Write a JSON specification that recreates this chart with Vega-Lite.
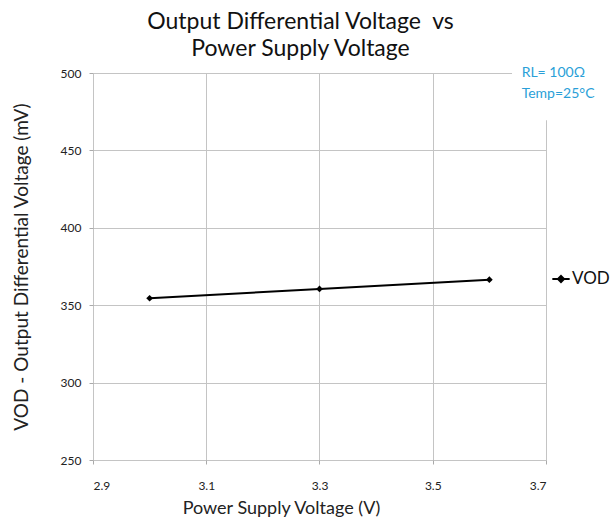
{
  "$schema": "https://vega.github.io/schema/vega-lite/v6.json",
  "width": 453,
  "height": 387,
  "autosize": {"type": "none"},
  "padding": {"left": 93, "top": 73, "right": 65, "bottom": 60},
  "background": "white",
  "config": {"view": {"stroke": null}, "font": "Lato"},
  "title": {
    "text": ["Output Differential Voltage \u00a0vs", "Power Supply Voltage"],
    "anchor": "middle",
    "dx": -19,
    "offset": 4,
    "fontSize": 23,
    "fontWeight": "normal",
    "font": "Lato",
    "color": "#111111",
    "lineHeight": 27
  },
  "datasets": {
    "main": [
      {"voltage": 3.0, "vod": 354.5, "series": "VOD"},
      {"voltage": 3.3, "vod": 360.5, "series": "VOD"},
      {"voltage": 3.6, "vod": 366.5, "series": "VOD"}
    ],
    "box": [{"x1": 3.64, "x2": 3.73, "y1": 469.5, "y2": 505}],
    "notes": [
      {"x": 3.657, "y": 500, "label": "RL= 100Ω"},
      {"x": 3.657, "y": 486.2, "label": "Temp=25°C"}
    ]
  },
  "layer": [
    {
      "data": {"name": "main"},
      "mark": {"type": "line", "color": "black", "strokeWidth": 2},
      "encoding": {
        "x": {
          "field": "voltage", "type": "quantitative",
          "scale": {"domain": [2.9, 3.7], "nice": false, "zero": false},
          "axis": {
            "values": [2.9, 3.1, 3.3, 3.5, 3.7], "format": ".1f",
            "title": "Power Supply Voltage (V)",
            "titleFontSize": 18, "titleFontWeight": "normal", "titleColor": "#222",
            "titleX": 188, "titleAnchor": "middle", "titlePadding": 8,
            "labelFontSize": 12, "labelColor": "#222", "labelPadding": 16,
            "domain": false, "tickSize": 4, "tickColor": "#aaa",
            "gridColor": "#c4c4c4", "gridWidth": 1
          }
        },
        "y": {
          "field": "vod", "type": "quantitative",
          "scale": {"domain": [250, 500], "nice": false, "zero": false},
          "axis": {
            "values": [250, 300, 350, 400, 450, 500],
            "title": "VOD - Output Differential Voltage (mV)",
            "titleFontSize": 19, "titleFontWeight": "normal", "titleColor": "#222",
            "titlePadding": 29,
            "labelFontSize": 12, "labelColor": "#222", "labelPadding": 8,
            "domain": false, "tickSize": 4, "tickColor": "#aaa",
            "gridColor": "#c4c4c4", "gridWidth": 1
          }
        },
        "color": {
          "field": "series", "type": "nominal",
          "scale": {"range": ["black"]},
          "legend": {
            "orient": "none", "legendX": 458, "legendY": 196,
            "title": null,
            "labelFontSize": 17, "labelColor": "#111",
            "symbolType": "M-1,0H1M0,-0.35L0.35,0L0,0.35L-0.35,0Z",
            "symbolSize": 300, "symbolStrokeWidth": 2,
            "symbolFillColor": "black", "symbolStrokeColor": "black",
            "labelOffset": 1
          }
        }
      }
    },
    {
      "data": {"name": "main"},
      "mark": {"type": "point", "shape": "diamond", "filled": true, "color": "black", "size": 45, "opacity": 1},
      "encoding": {
        "x": {"field": "voltage", "type": "quantitative"},
        "y": {"field": "vod", "type": "quantitative"}
      }
    },
    {
      "data": {"name": "box"},
      "mark": {"type": "rect", "color": "white", "clip": false},
      "encoding": {
        "x": {"field": "x1", "type": "quantitative"},
        "x2": {"field": "x2"},
        "y": {"field": "y1", "type": "quantitative"},
        "y2": {"field": "y2"}
      }
    },
    {
      "data": {"name": "notes"},
      "mark": {"type": "text", "align": "left", "baseline": "middle", "fontSize": 14, "color": "#2a9fd8", "clip": false},
      "encoding": {
        "x": {"field": "x", "type": "quantitative"},
        "y": {"field": "y", "type": "quantitative"},
        "text": {"field": "label"}
      }
    }
  ]
}
